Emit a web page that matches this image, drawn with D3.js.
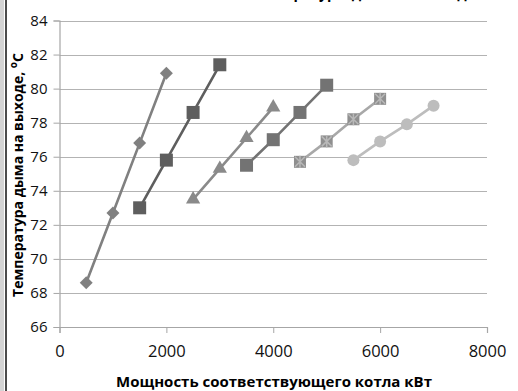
<!DOCTYPE html>
<html><head><meta charset="utf-8">
<script src="https://cdn.jsdelivr.net/npm/d3@7"></script>
<style>body{margin:0;background:#fff}svg{display:block}text{font-family:"Open Sans",sans-serif}</style>
</head><body>
<script>
const xTicks = [0, 2000, 4000, 6000, 8000];
const yTicks = [66, 68, 70, 72, 74, 76, 78, 80, 82, 84];
const titleText = "Зависимость температуры дыма на выходе";
const xTitle = "Мощность соответствующего котла кВт";
const yTitle = "Температура дыма на выходе, ";
const s1x = [500, 1000, 1500, 2000],   s1y = [68.6, 72.7, 76.8, 80.9];
const s2x = [1500, 2000, 2500, 3000],  s2y = [73.0, 75.8, 78.6, 81.4];
const s3x = [2500, 3000, 3500, 4000],  s3y = [73.5, 75.3, 77.1, 78.9];
const s4x = [3500, 4000, 4500, 5000],  s4y = [75.5, 77.0, 78.6, 80.2];
const s5x = [4500, 5000, 5500, 6000],  s5y = [75.7, 76.9, 78.2, 79.4];
const s6x = [5500, 6000, 6500, 7000],  s6y = [75.8, 76.9, 77.9, 79.0];

const W = 518, H = 391;
const svg = d3.select("body").append("svg").attr("width", W).attr("height", H);
const x = d3.scaleLinear().domain([0, 8000]).range([59.5, 487]);
const y = d3.scaleLinear().domain([66, 84]).range([327, 20.5]);

// frame on left
svg.append("rect").attr("x", 0).attr("y", 0).attr("width", 4).attr("height", H).attr("fill", "#d4d4d4");
svg.append("line").attr("x1", 6).attr("x2", 6).attr("y1", 0).attr("y2", H).attr("stroke", "#111").attr("stroke-width", 1.5);

// title (cut off at top, as in the reference)
svg.append("text").attr("x", 310).attr("y", -2).attr("text-anchor", "middle")
  .attr("font-size", 16).attr("font-weight", "bold").attr("fill", "#000")
  .attr("textLength", 330).attr("lengthAdjust", "spacingAndGlyphs").text(titleText);

// gridlines
svg.append("g").selectAll("line").data(yTicks.slice(1)).join("line")
  .attr("x1", x(0)).attr("x2", x(8000)).attr("y1", d => Math.round(y(d)) + 0.5).attr("y2", d => Math.round(y(d)) + 0.5)
  .attr("stroke", "#b3b3b3").attr("stroke-width", 1);

// y axis
const gy = svg.append("g").attr("transform", `translate(${x(0)},0)`)
  .call(d3.axisLeft(y).tickValues(yTicks).tickSize(6).tickPadding(6));
// x axis
const gx = svg.append("g").attr("transform", `translate(0,${y(66)})`)
  .call(d3.axisBottom(x).tickValues(xTicks).tickSize(6).tickPadding(12).tickFormat(d3.format("d")));
[gx, gy].forEach(g => {
  g.select(".domain").attr("stroke", "#a6a6a6").attr("stroke-width", 1.2);
  g.selectAll(".tick line").attr("stroke", "#a6a6a6");
  g.selectAll(".tick text").attr("fill", "#111").attr("font-family", "'Open Sans',sans-serif");
});
gy.selectAll(".tick text").attr("font-size", 15);
gx.selectAll(".tick text").attr("font-size", 16.5);

// axis titles
svg.append("text").attr("x", 274).attr("y", 387).attr("text-anchor", "middle")
  .attr("font-size", 15).attr("font-weight", "bold").text(xTitle);
const yt = svg.append("text").attr("transform", "translate(23,175) rotate(-90)").attr("text-anchor", "middle")
  .attr("font-size", 14).attr("font-weight", "bold");
yt.append("tspan").text(yTitle);
yt.append("tspan").attr("dy", -6).attr("font-size", 10).text("o");
yt.append("tspan").attr("dy", 6).text("C");

const line = d3.line().x(d => x(d[0])).y(d => y(d[1]));
const series = [
  {xs: s1x, ys: s1y, color: "#808080", marker: "diamond"},
  {xs: s2x, ys: s2y, color: "#5e5e5e", marker: "square"},
  {xs: s3x, ys: s3y, color: "#8a8a8a", marker: "triangle"},
  {xs: s4x, ys: s4y, color: "#737373", marker: "square"},
  {xs: s5x, ys: s5y, color: "#a8a8a8", marker: "starsq"},
  {xs: s6x, ys: s6y, color: "#bdbdbd", marker: "circle"}
];
series.forEach(s => {
  const pts = s.xs.map((v, i) => [v, s.ys[i]]);
  svg.append("path").datum(pts).attr("d", line).attr("fill", "none").attr("stroke", s.color).attr("stroke-width", 2.6);
  const g = svg.append("g");
  pts.forEach(p => {
    const cx = x(p[0]), cy = y(p[1]);
    if (s.marker === "diamond") {
      g.append("path").attr("d", d3.symbol(d3.symbolSquare, 84)()).attr("transform", `translate(${cx},${cy}) rotate(45)`).attr("fill", s.color);
    } else if (s.marker === "square") {
      g.append("rect").attr("x", cx - 6.5).attr("y", cy - 6.5).attr("width", 13).attr("height", 13).attr("fill", s.color);
    } else if (s.marker === "triangle") {
      g.append("path").attr("d", d3.symbol(d3.symbolTriangle, 88)()).attr("transform", `translate(${cx},${cy})`).attr("fill", s.color);
    } else if (s.marker === "circle") {
      g.append("circle").attr("cx", cx).attr("cy", cy).attr("r", 6).attr("fill", s.color);
    } else if (s.marker === "starsq") {
      g.append("rect").attr("x", cx - 6).attr("y", cy - 6).attr("width", 12).attr("height", 12).attr("fill", "#8f8f8f");
      g.append("path").attr("d", `M${cx-5},${cy-5}L${cx+5},${cy+5}M${cx+5},${cy-5}L${cx-5},${cy+5}M${cx},${cy-6}L${cx},${cy+6}`)
        .attr("stroke", "#b8b8b8").attr("stroke-width", 1.5);
    }
  });
});
</script>
</body></html>
